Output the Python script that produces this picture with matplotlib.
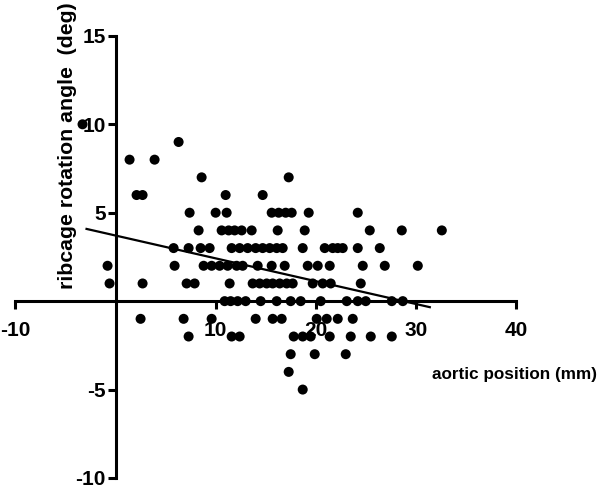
# Import numpy for building the regression line x values.
import numpy as np

# Import matplotlib for drawing and saving the scatter plot.
import matplotlib
matplotlib.use("Agg")
import matplotlib.pyplot as plt

# Aortic position (mm) for every subject, grouped row by row by angle.
aortic_position = [
    -3.3,
    6.3,
    1.4, 3.9,
    8.6, 17.3,
    2.1, 2.7, 11.0, 14.7,
    7.4, 10.0, 11.1, 15.6, 16.3, 17.0, 17.6, 19.3, 24.2,
    8.3, 10.6, 11.3, 11.9, 12.6, 13.6, 16.2, 18.9, 25.4, 28.6, 32.6,
    5.8, 7.3, 8.5, 9.4, 11.6, 12.4, 13.2, 14.0, 14.7, 15.4, 16.1, 16.7,
    18.7, 20.9, 21.7, 22.2, 22.7, 24.2, 26.4,
    -0.8, 5.9, 8.8, 9.6, 10.4, 11.2, 12.1, 12.7, 14.2, 15.6, 16.9, 19.2,
    20.2, 21.4, 24.7, 26.9, 30.2,
    -0.6, 2.7, 7.1, 7.9, 11.4, 13.7, 14.4, 15.1, 15.7, 16.4, 17.1, 17.7,
    19.7, 20.7, 21.5, 24.5,
    10.9, 11.5, 12.2, 13.0, 14.5, 16.1, 17.5, 18.5, 20.5, 23.1, 24.2, 25.0,
    27.6, 28.7,
    2.5, 6.8, 9.6, 14.0, 15.7, 16.6, 20.1, 21.1, 22.2, 23.7,
    7.3, 11.6, 12.4, 17.8, 18.7, 19.5, 21.4, 23.5, 25.5, 27.6,
    17.5, 19.9, 23.0,
    17.3,
    18.7,
]

# Ribcage rotation angle (deg) for every subject, same order as above.
rotation_angle = (
    [10] * 1 + [9] * 1 + [8] * 2 + [7] * 2 + [6] * 4 + [5] * 9
    + [4] * 11 + [3] * 19 + [2] * 17 + [1] * 16 + [0] * 14
    + [-1] * 10 + [-2] * 10 + [-3] * 3 + [-4] * 1 + [-5] * 1
)

# Regression line.
fit_slope = -0.129
fit_intercept = 3.71
fit_x_range = [-2.9, 31.4]

# Tick positions (zero is left out, as in the original).
x_ticks = [-10, 10, 20, 30, 40]
y_ticks = [-10, -5, 5, 10, 15]

# Use an Arial-like bold font everywhere, with a plain hyphen as minus.
plt.rcParams["font.family"] = ["Liberation Sans", "DejaVu Sans"]
plt.rcParams["font.weight"] = "bold"
plt.rcParams["axes.unicode_minus"] = False

# Create the figure at 600x488 pixels.
fig = plt.figure(figsize=(6.0, 4.88), dpi=100)

# Place the axes so that the data range fills the frame.
ax = fig.add_axes([0.0258, 0.0205, 0.834, 0.906])

# Draw the subject points.
ax.scatter(aortic_position, rotation_angle, s=52, color="black",
           edgecolors="none", zorder=3, clip_on=False)

# Draw the regression line.
line_x = np.array(fit_x_range)
ax.plot(line_x, fit_slope * line_x + fit_intercept, color="black",
        linewidth=1.6, zorder=4)

# Set the axis ranges.
ax.set_xlim(-10, 40)
ax.set_ylim(-10, 15)

# Move the axes lines so they cross at the origin.
ax.spines["left"].set_position(("data", 0))
ax.spines["bottom"].set_position(("data", 0))
ax.spines["top"].set_visible(False)
ax.spines["right"].set_visible(False)
ax.spines["left"].set_linewidth(2.2)
ax.spines["bottom"].set_linewidth(2.2)

# Ticks and tick labels.
ax.set_xticks(x_ticks)
ax.set_yticks(y_ticks)
ax.tick_params(axis="x", direction="out", length=6, width=2.2, pad=8,
               labelsize=15)
ax.tick_params(axis="y", direction="out", length=6, width=2.2, pad=1,
               labelsize=15)

# Axis titles.
ax.set_xlabel("aortic position (mm)", fontsize=12.3, fontweight="bold",
              va="center", ha="center")
ax.xaxis.set_label_coords(0.998, 0.233)
ax.set_ylabel("ribcage rotation angle  (deg)", fontsize=15.3,
              fontweight="bold", va="center", ha="center")
ax.yaxis.set_label_coords(0.103, 0.751)

# Save the figure.
fig.savefig("out.png", dpi=100)
plt.close(fig)
